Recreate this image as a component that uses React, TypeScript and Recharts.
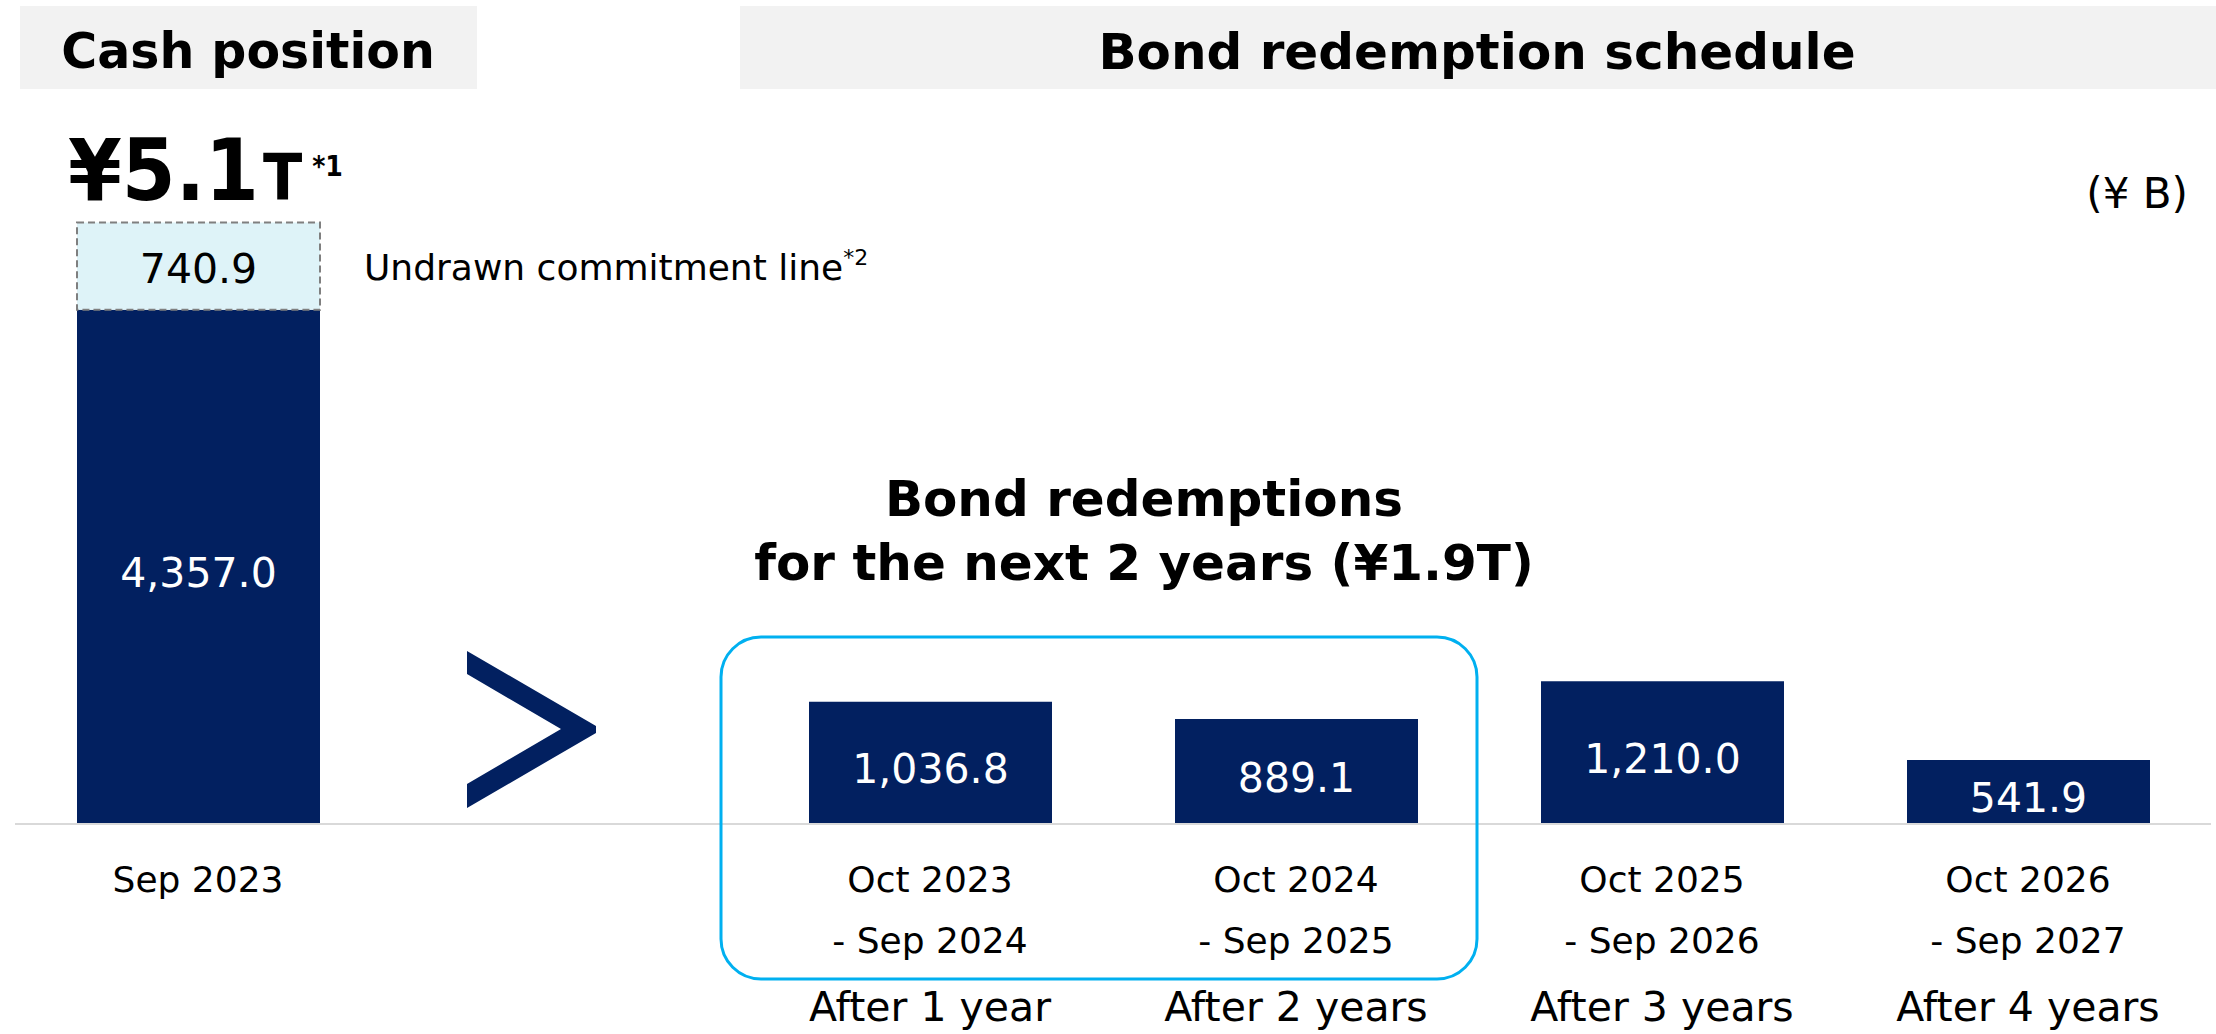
import { BarChart, Bar, XAxis, YAxis, LabelList } from 'recharts'

const categories = ['Sep 2023', '', 'Oct 2023', 'Oct 2024', 'Oct 2025', 'Oct 2026']
const periodEnd = ['', '', '- Sep 2024', '- Sep 2025', '- Sep 2026', '- Sep 2027']
const horizon = ['', '', 'After 1 year', 'After 2 years', 'After 3 years', 'After 4 years']
const amounts = [4357.0, null, 1036.8, 889.1, 1210.0, 541.9]
const undrawn = [740.9, null, null, null, null, null]

const data = categories.map((name, i) => ({ name, amount: amounts[i], undrawn: undrawn[i] }))

const NAVY = '#022060'
const FONT = '"DejaVu Sans", Verdana, sans-serif'

function fmt(v: number) {
  return v.toLocaleString('en-US', { minimumFractionDigits: 1, maximumFractionDigits: 1 })
}

const PeriodTick = ({ x, y, payload }: any) => {
  const i = categories.indexOf(payload.value)
  return (
    <g fontFamily={FONT} fill="#000">
      <text x={x} y={y + 68} textAnchor="middle" fontSize={36}>{categories[i]}</text>
      {periodEnd[i] && <text x={x} y={y + 129} textAnchor="middle" fontSize={36}>{periodEnd[i]}</text>}
      {horizon[i] && <text x={x} y={y + 197} textAnchor="middle" fontSize={41}>{horizon[i]}</text>}
    </g>
  )
}

const valueLabel = (color: string, shift: number) => (props: any) => {
  const { x, y, width, height, value } = props
  if (value == null) return null
  return (
    <text x={x + width / 2} y={y + height / 2 + shift + 15} textAnchor="middle"
      fill={color} fontSize={41} fontFamily={FONT}>
      {fmt(value)}
    </text>
  )
}

const undrawnNote = (props: any) => {
  const { x, y, width, height, value } = props
  if (value == null) return null
  return (
    <text x={x + width + 44} y={y + height / 2 + 14} fontSize={36} fontFamily={FONT} fill="#000">
      Undrawn commitment line
      <tspan fontSize={22} dy={-15}>*2</tspan>
    </text>
  )
}

export default function App() {
  return (
    <div style={{ position: 'absolute', left: 0, top: 0, width: 2216, height: 1034, background: '#fff', fontFamily: FONT }}>
      <BarChart width={2216} height={1034} data={data}
        margin={{ top: 116, right: 5, left: 15, bottom: 10 }}>
        <YAxis hide domain={[0, 6000]} />
        <XAxis dataKey="name" interval={0} height={200} tickLine={false} tickSize={0} tickMargin={0}
          axisLine={{ stroke: '#D9D9D9', strokeWidth: 2 }} tick={<PeriodTick />} />
        <Bar dataKey="amount" stackId="a" fill={NAVY} barSize={243} isAnimationActive={false}>
          <LabelList dataKey="amount" content={valueLabel('#fff', 5)} />
        </Bar>
        <Bar dataKey="undrawn" stackId="a" fill="#DEF3F8" stroke="#7F7F7F" strokeWidth={2}
          strokeDasharray="7 4" barSize={243} isAnimationActive={false}>
          <LabelList dataKey="undrawn" content={valueLabel('#000', 2)} />
          <LabelList dataKey="undrawn" content={undrawnNote} />
        </Bar>
      </BarChart>

      <svg width={2216} height={1034} style={{ position: 'absolute', left: 0, top: 0, pointerEvents: 'none' }}
        fontFamily={FONT}>
        <rect x={20} y={6} width={457} height={83} fill="#F2F2F2" />
        <text x={248} y={68} textAnchor="middle" fontSize={49} fontWeight="bold">Cash position</text>
        <rect x={740} y={6} width={1476} height={83} fill="#F2F2F2" />
        <text x={1477} y={69} textAnchor="middle" fontSize={50} fontWeight="bold">Bond redemption schedule</text>

        <text x={68} y={200} fontWeight="bold" fontFamily='"DejaVu Sans Condensed", "DejaVu Sans", sans-serif'>
          <tspan fontSize={86}>¥5.1</tspan>
          <tspan fontSize={64} dx={4}>T</tspan>
          <tspan fontSize={28} dx={10} dy={-24}>*1</tspan>
        </text>

        <text x={2188} y={208} textAnchor="end" fontSize={42}>(¥ B)</text>

        <text x={1144} y={516} textAnchor="middle" fontSize={50} fontWeight="bold">Bond redemptions</text>
        <text x={1144} y={580} textAnchor="middle" fontSize={50} fontWeight="bold">for the next 2 years (¥1.9T)</text>

        <polygon points="467,651 596,726 596,733 467,808 467,784 561,729 467,674" fill={NAVY} />
        <rect x={721} y={637} width={756} height={342} rx={40} ry={40} fill="none" stroke="#00B0F0" strokeWidth={3} />
      </svg>
    </div>
  )
}
